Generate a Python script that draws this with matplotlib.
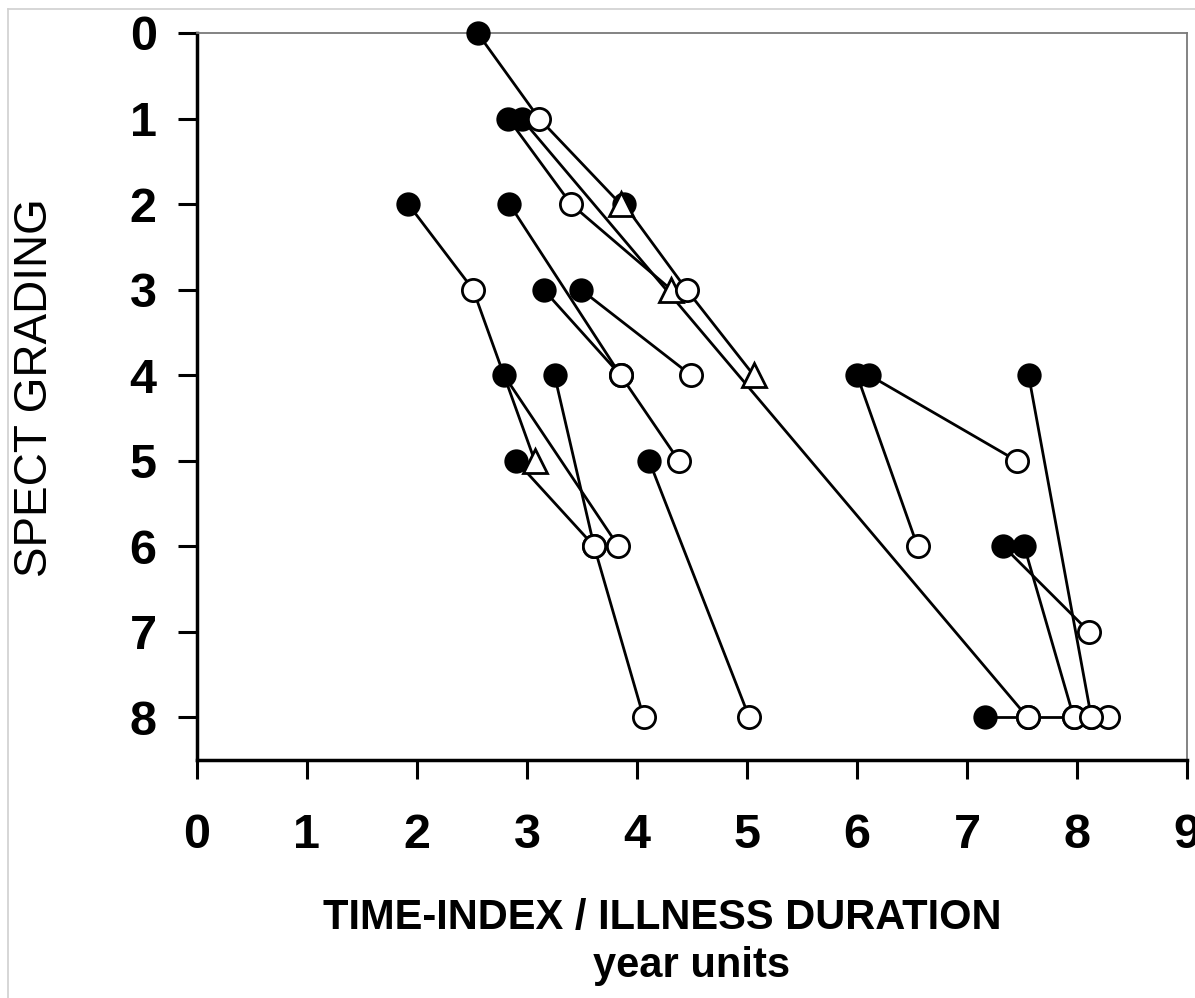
import matplotlib
matplotlib.use("Agg")
import matplotlib.pyplot as plt
from matplotlib.lines import Line2D

plt.rcParams['font.family'] = ['Liberation Sans', 'DejaVu Sans']

# one entry per patient: time-index (years) and SPECT grade of each scan
patient_x = [
    [2.55, 3.11, 3.85],
    [2.83, 3.40, 4.31],
    [3.88, 4.45, 5.06],
    [1.92, 2.51, 3.07],
    [2.95, 7.55],
    [2.84, 3.85],
    [3.15, 3.85, 4.38],
    [3.49, 4.49],
    [2.79, 3.83],
    [3.25, 3.61],
    [2.90, 3.61, 4.06],
    [4.11, 5.02],
    [6.00, 6.55],
    [6.11, 7.45],
    [7.56, 8.13],
    [7.33, 8.11],
    [7.52, 7.97],
    [7.16, 7.55, 7.97, 8.28],
]
patient_y = [
    [0, 1, 2],
    [1, 2, 3],
    [2, 3, 4],
    [2, 3, 5],
    [1, 8],
    [2, 4],
    [3, 4, 5],
    [3, 4],
    [4, 6],
    [4, 6],
    [5, 6, 8],
    [5, 8],
    [4, 6],
    [4, 5],
    [4, 8],
    [6, 7],
    [6, 8],
    [8, 8, 8, 8],
]
# F = first scan (filled), O = follow-up (open), T = third scan (triangle)
patient_kind = ["FOT", "FOT", "FOT", "FOT", "FO", "FO", "FOO", "FO", "FO",
                "FO", "FOO", "FO", "FO", "FO", "FO", "FO", "FO", "FOOO"]
extra_open_x = [8.13]
extra_open_y = [8]

x_ticks = list(range(10))
y_ticks = list(range(9))

fig = plt.figure(figsize=(11.95, 9.98), dpi=100)
ax = fig.add_axes([197 / 1195, 1 - 760 / 998, (1187 - 197) / 1195, (760 - 33) / 998])

# connecting lines
for xs, ys in zip(patient_x, patient_y):
    ax.plot(xs, ys, color="black", lw=2.0, zorder=2, clip_on=False)

# split points by marker kind
fx, fy, ox, oy, tx, ty = [], [], [], [], [], []
for xs, ys, kind in zip(patient_x, patient_y, patient_kind):
    for x, y, k in zip(xs, ys, kind):
        if k == "F":
            fx.append(x); fy.append(y)
        elif k == "T":
            tx.append(x); ty.append(y)
        else:
            ox.append(x); oy.append(y)
ox += extra_open_x
oy += extra_open_y

ax.plot(fx, fy, "o", ms=16, mfc="black", mec="black", mew=1.5, zorder=3, clip_on=False)
ax.plot(tx, ty, "^", ms=17, mfc="white", mec="black", mew=2.0, zorder=4, clip_on=False)
ax.plot(ox, oy, "o", ms=16, mfc="white", mec="black", mew=2.0, zorder=5, clip_on=False)

ax.set_xlim(0, 9)
ax.set_ylim(8.5, 0)
ax.set_xticks(x_ticks)
ax.set_yticks(y_ticks)
ax.tick_params(axis="both", direction="out", length=14, width=2.2, labelsize=35)
ax.tick_params(axis="y", pad=15)
ax.tick_params(axis="x", pad=24)
for lab in ax.get_xticklabels() + ax.get_yticklabels():
    lab.set_fontweight("bold")

for side in ["left", "bottom"]:
    ax.spines[side].set_linewidth(2.5)
    ax.spines[side].set_color("black")
for side in ["top", "right"]:
    ax.spines[side].set_linewidth(1.3)
    ax.spines[side].set_color("#7a7a7a")

# axis titles
fig.text(662 / 1195, 1 - 918 / 998, "TIME-INDEX / ILLNESS DURATION",
         ha="center", va="center", fontsize=30, fontweight="bold")
fig.text(692 / 1195, 1 - 966 / 998, "year units",
         ha="center", va="center", fontsize=30, fontweight="bold")
fig.text(35 / 1195, 1 - 388 / 998, "SPECT GRADING", rotation=90,
         ha="center", va="center", fontsize=33)

# faint frame of the scanned page
fig.add_artist(Line2D([8 / 1195, 8 / 1195], [0, 1 - 9 / 998], color="#d0d0d0", lw=1.2))
fig.add_artist(Line2D([8 / 1195, 1], [1 - 9 / 998, 1 - 9 / 998], color="#d0d0d0", lw=1.2))

fig.savefig("out.png", dpi=100)
